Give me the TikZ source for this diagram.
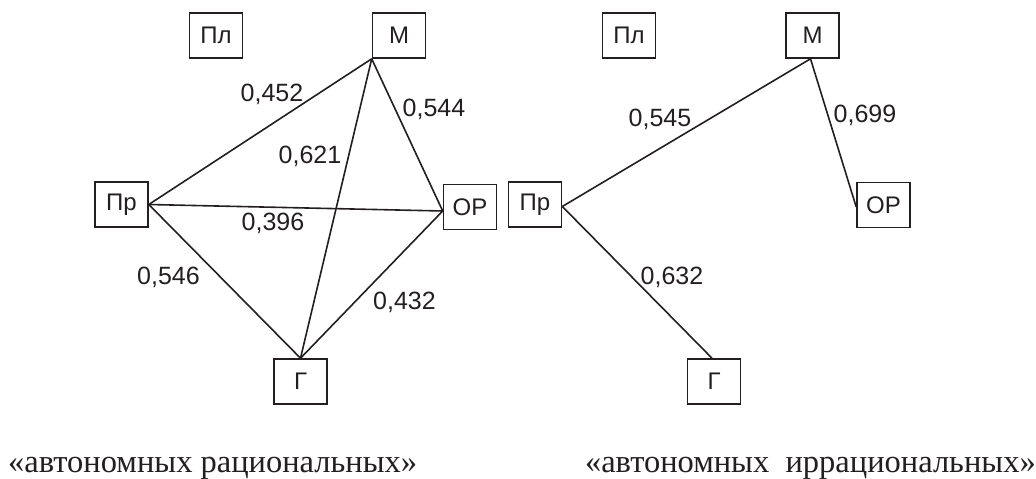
\documentclass[tikz,border=0pt]{standalone}
\usepackage{fontspec}
\setmainfont{Liberation Sans}
\newfontfamily\serifcap{Liberation Serif}
\definecolor{ink}{RGB}{35,31,32}
\begin{document}
\begin{tikzpicture}[x=1pt,y=-1pt,
  every node/.style={text=ink},
  box/.style={draw=ink, line width=1.6pt, minimum width=53pt, minimum height=45pt, inner sep=0pt, font=\fontsize{24}{28}\selectfont},
  lbl/.style={inner sep=0pt, text depth=0pt, font=\fontsize{25}{29}\selectfont},
  link/.style={draw=ink, line width=1.6pt},
  captxt/.style={inner sep=0pt, font=\serifcap\fontsize{32.5}{37}\selectfont}]
\useasboundingbox (0,0) rectangle (1036,479);
% left diagram
\node[box] (Pl1) at (216,35.5) {Пл};
\node[box] (M1) at (399,35.5) {М};
\node[box] (Pr1) at (121.5,204.5) {Пр};
\node[box] (OP1) at (470,207) {ОР};
\node[box] (G1) at (300.5,381.5) {Г};
\draw[link] (Pr1.east) -- (M1.south west);
\draw[link] (M1.south west) -- (G1.north);
\draw[link] (M1.south west) -- ([yshift=-4pt]OP1.west);
\draw[link] (Pr1.east) -- ([yshift=-4pt]OP1.west);
\draw[link] (Pr1.east) -- (G1.north);
\draw[link] ([yshift=-4pt]OP1.west) -- (G1.north);
\node[lbl] (l1) at (272,93) {0,452};
\node[lbl] (l2) at (310,155) {0,621};
\node[lbl] (l3) at (434,108) {0,544};
\node[lbl] (l4) at (273,222) {0,396};
\node[lbl] (l5) at (168.5,276) {0,546};
\node[lbl] (l6) at (404.5,301) {0,432};
% right diagram
\node[box] (Pl2) at (629,35.5) {Пл};
\node[box] (M2) at (812.5,35.5) {М};
\node[box] (Pr2) at (535,204.5) {Пр};
\node[box] (OP2) at (883.5,205) {ОР};
\node[box] (G2) at (714,381.5) {Г};
\draw[link] ([yshift=-2pt]Pr2.east) -- ([xshift=-2pt]M2.south);
\draw[link] ([xshift=-2pt]M2.south) -- ([yshift=-2pt]OP2.west);
\draw[link] ([yshift=-2pt]Pr2.east) -- ([xshift=-2pt]G2.north);
\node[lbl] (r1) at (660,117.5) {0,545};
\node[lbl] (r2) at (865,114) {0,699};
\node[lbl] (r3) at (672,276) {0,632};
% captions
\node[captxt, anchor=base west] (c1) at (8,472) {«автономных рациональных»};
\node[captxt, anchor=base east] (c2) at (1036,472) {«автономных\ \ иррациональных»};
\end{tikzpicture}
\end{document}
